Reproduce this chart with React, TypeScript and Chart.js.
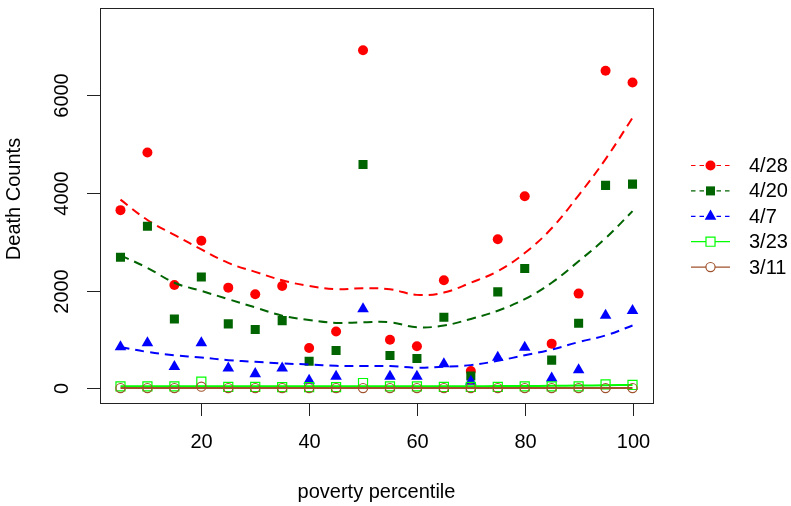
import React, { useEffect, useRef } from 'react';
import { Chart, registerables } from 'chart.js';

Chart.register(...registerables);

const percentiles = [5, 10, 15, 20, 25, 30, 35, 40, 45, 50, 55, 60, 65, 70, 75, 80, 85, 90, 95, 100];
const deaths0428 = [3651, 4833, 2117, 3023, 2063, 1929, 2097, 827, 1165, 6926, 997, 861, 2213, 355, 3056, 3935, 916, 1941, 6508, 6265];
const deaths0420 = [2685, 3319, 1422, 2280, 1321, 1206, 1388, 557, 774, 4584, 673, 612, 1455, 253, 1976, 2456, 578, 1333, 4158, 4184];
const deaths0407 = [850, 931, 445, 931, 413, 298, 413, 162, 243, 1627, 243, 243, 500, 142, 635, 838, 210, 378, 1492, 1593];
const deaths0323 = [40, 40, 40, 136, 28, 28, 25, 25, 25, 109, 40, 40, 28, 28, 28, 40, 40, 40, 81, 69];
const deaths0311 = [5, 5, 5, 35, 5, 5, 5, 5, 5, 5, 5, 5, 5, 5, 5, 5, 5, 5, 5, 5];

const fit0428 = [3866, 3449, 3145, 2847, 2570, 2387, 2213, 2097, 2030, 2050, 2030, 1915, 1962, 2165, 2401, 2772, 3279, 3955, 4697, 5542];
const fit0420 = [2725, 2468, 2164, 1996, 1828, 1658, 1489, 1402, 1341, 1354, 1354, 1252, 1287, 1422, 1591, 1828, 2164, 2604, 3076, 3631];
const fit0407 = [848, 746, 679, 632, 578, 544, 510, 490, 462, 456, 456, 422, 442, 476, 564, 679, 794, 948, 1084, 1287];
const fit0323 = [45, 45, 45, 45, 45, 45, 45, 45, 45, 45, 45, 45, 45, 45, 46, 48, 52, 58, 64, 70];
const fit0311 = [6, 6, 6, 6, 6, 6, 6, 6, 6, 6, 6, 6, 6, 6, 6, 6, 6, 6, 6, 6];

const seriesLabels = ['4/28', '4/20', '4/7', '3/23', '3/11'];
const seriesColors = ['#FF0000', '#006400', '#0000FF', '#00FF00', '#A0522D'];
const xTicks = [20, 40, 60, 80, 100];
const yTicks = [0, 2000, 4000, 6000];
const xTitle = 'poverty percentile';
const yTitle = 'Death Counts';

const seriesValues = [deaths0428, deaths0420, deaths0407, deaths0323, deaths0311];
const seriesFits = [fit0428, fit0420, fit0407, fit0323, fit0311];
const pointStyles = ['circle', 'rect', 'triangle', 'rect', 'circle'];
const pointRadii = [5, 6.4, 6.7, 6.4, 4.6];
const filled = [true, true, true, false, false];
const dashed = [true, true, true, false, false];

const FONT = '"Liberation Sans", Arial, Helvetica, sans-serif';

function drawMarker(ctx: CanvasRenderingContext2D, i: number, x: number, y: number) {
  const r = pointRadii[i];
  const c = seriesColors[i];
  ctx.save();
  ctx.setLineDash([]);
  ctx.beginPath();
  if (pointStyles[i] === 'circle') {
    ctx.arc(x, y, r, 0, Math.PI * 2);
  } else if (pointStyles[i] === 'rect') {
    const s = Math.SQRT1_2 * r;
    ctx.rect(x - s, y - s, 2 * s, 2 * s);
  } else {
    ctx.moveTo(x, y - r);
    ctx.lineTo(x + Math.sin((2 * Math.PI) / 3) * r, y + 0.5 * r);
    ctx.lineTo(x - Math.sin((2 * Math.PI) / 3) * r, y + 0.5 * r);
    ctx.closePath();
  }
  if (filled[i]) {
    ctx.fillStyle = c;
    ctx.fill();
  } else {
    ctx.fillStyle = '#FFFFFF';
    ctx.fill();
    ctx.strokeStyle = c;
    ctx.lineWidth = 1.2;
    ctx.stroke();
  }
  ctx.restore();
}

const rAxesPlugin = {
  id: 'rAxes',
  afterDraw(chart: any) {
    const ctx: CanvasRenderingContext2D = chart.ctx;
    const area = chart.chartArea;
    const xs = chart.scales.x;
    const ys = chart.scales.y;
    ctx.save();
    // box
    ctx.strokeStyle = '#222222';
    ctx.lineWidth = 1;
    ctx.strokeRect(Math.round(area.left) + 0.5, Math.round(area.top) + 0.5, Math.round(area.right - area.left), Math.round(area.bottom - area.top));
    ctx.fillStyle = '#000000';
    ctx.font = `20px ${FONT}`;
    // x ticks
    ctx.textAlign = 'center';
    ctx.textBaseline = 'middle';
    xTicks.forEach((v) => {
      const px = Math.round(xs.getPixelForValue(v)) + 0.5;
      ctx.beginPath();
      ctx.moveTo(px, area.bottom);
      ctx.lineTo(px, area.bottom + 13);
      ctx.stroke();
      ctx.fillText(String(v), px, area.bottom + 39);
    });
    // y ticks
    yTicks.forEach((v) => {
      const py = Math.round(ys.getPixelForValue(v)) + 0.5;
      ctx.beginPath();
      ctx.moveTo(area.left, py);
      ctx.lineTo(area.left - 13, py);
      ctx.stroke();
      ctx.save();
      ctx.translate(area.left - 38, py);
      ctx.rotate(-Math.PI / 2);
      ctx.textAlign = 'center';
      ctx.textBaseline = 'middle';
      ctx.fillText(String(v), 0, 0);
      ctx.restore();
    });
    // titles
    ctx.textAlign = 'center';
    ctx.textBaseline = 'middle';
    ctx.fillText(xTitle, (area.left + area.right) / 2, 492);
    ctx.save();
    ctx.translate(14, 199);
    ctx.rotate(-Math.PI / 2);
    ctx.fillText(yTitle, 0, 0);
    ctx.restore();
    // legend
    const legX0 = 691;
    const legX1 = 730;
    const legY0 = 165.5;
    const legDy = 25.4;
    seriesLabels.forEach((lab, i) => {
      const y = legY0 + i * legDy;
      ctx.save();
      ctx.strokeStyle = seriesColors[i];
      ctx.lineWidth = 1.2;
      ctx.setLineDash(dashed[i] ? [4.5, 4] : []);
      ctx.beginPath();
      ctx.moveTo(legX0, y);
      ctx.lineTo(legX1, y);
      ctx.stroke();
      ctx.restore();
      drawMarker(ctx, i, (legX0 + legX1) / 2, y);
      ctx.fillStyle = '#000000';
      ctx.textAlign = 'left';
      ctx.textBaseline = 'middle';
      ctx.fillText(lab, 749, y + 1);
    });
    ctx.restore();
  },
};

export default function App() {
  const canvasRef = useRef<HTMLCanvasElement | null>(null);

  useEffect(() => {
    const canvas = canvasRef.current;
    if (!canvas) return;
    const datasets: any[] = [];
    seriesLabels.forEach((lab, i) => {
      const order = 10 - 2 * i;
      datasets.push({
        type: 'scatter',
        label: lab,
        data: percentiles.map((x, k) => ({ x, y: seriesValues[i][k] })),
        showLine: false,
        pointStyle: pointStyles[i],
        pointRadius: pointRadii[i],
        pointBackgroundColor: filled[i] ? seriesColors[i] : 'rgba(0,0,0,0)',
        pointBorderColor: seriesColors[i],
        pointBorderWidth: filled[i] ? 0 : 1.2,
        order: order + 1,
      });
      datasets.push({
        type: 'line',
        label: lab + ' fit',
        data: percentiles.map((x, k) => ({ x, y: seriesFits[i][k] })),
        borderColor: seriesColors[i],
        borderWidth: 2,
        borderDash: dashed[i] ? [9, 6] : [],
        pointRadius: 0,
        fill: false,
        tension: 0.4,
        order: order,
      });
    });
    const chart = new Chart(canvas, {
      type: 'scatter',
      data: { datasets },
      options: {
        responsive: false,
        animation: false,
        events: [],
        layout: { padding: { left: 100, right: 138, top: 3, bottom: 103 } },
        plugins: { legend: { display: false }, tooltip: { enabled: false } },
        scales: {
          x: { type: 'linear', min: 1.2, max: 103.8, display: false },
          y: { type: 'linear', min: -300, max: 7800, display: false },
        },
      },
      plugins: [rAxesPlugin],
    });
    return () => chart.destroy();
  }, []);

  return (
    <div style={{ position: 'absolute', left: 0, top: 0, width: 791, height: 506, background: '#fff' }}>
      <canvas ref={canvasRef} width={791} height={506} style={{ display: 'block' }} />
    </div>
  );
}
